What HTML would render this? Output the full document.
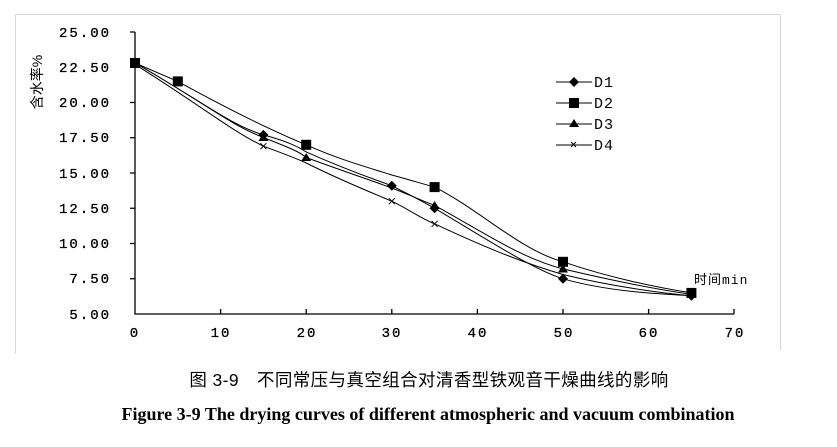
<!DOCTYPE html>
<html><head><meta charset="utf-8"><style>
body{margin:0;background:#fff;width:837px;height:442px;overflow:hidden}
</style></head><body>
<svg width="837" height="442" xmlns="http://www.w3.org/2000/svg" font-family="Liberation Mono, DejaVu Sans Mono, monospace">
<rect width="837" height="442" fill="#fff"/>
<path d="M15.5,354 V14.5 H780.5 V350" fill="none" stroke="#d8d8d8" stroke-width="1"/>
<g stroke="#000" stroke-width="1.3" fill="none">
<path d="M135,32 V314 H734"/>
<path d="M130,32H135M130,67.25H135M130,102.5H135M130,137.75H135M130,173H135M130,208.25H135M130,243.5H135M130,278.75H135"/>
<path d="M220.6,314V309M306.2,314V309M391.8,314V309M477.4,314V309M563,314V309M648.6,314V309M734,314V309"/>
</g>
<g font-size="14" fill="#000" text-anchor="end" letter-spacing="2" stroke="#000" stroke-width="0.3">
<text x="111" y="37">25.00</text><text x="111" y="72">22.50</text><text x="111" y="107">20.00</text><text x="111" y="142">17.50</text><text x="111" y="178">15.00</text><text x="111" y="213">12.50</text><text x="111" y="248">10.00</text><text x="111" y="283">7.50</text><text x="111" y="319">5.00</text>
</g>
<g font-size="14" fill="#000" text-anchor="middle" letter-spacing="2" stroke="#000" stroke-width="0.3">
<text x="135" y="337">0</text><text x="221" y="337">10</text><text x="307" y="337">20</text><text x="392" y="337">30</text><text x="478" y="337">40</text><text x="564" y="337">50</text><text x="649" y="337">60</text><text x="735" y="337">70</text>
</g>
<text transform="translate(42,82) rotate(-90)" font-size="14" text-anchor="middle" font-family="Liberation Sans, Noto Sans CJK SC, sans-serif">含水率%</text>
<text x="694" y="284" font-size="13" font-family="Liberation Mono, Noto Sans CJK SC, monospace" letter-spacing="1">时间min</text>
<g fill="none" stroke="#000" stroke-width="1">
<path d="M135,63 C200,100 230,125 263.4,134.9 C290,142 300,148 306.2,151.9 C340,167 370,178 391.8,185.7 C410,195 420,200 434.6,208.3 C480,235 530,268 563,278.8 C610,292 660,294 691.4,295.7"/>
<path d="M135,63 L177.8,81.4 C230,110 270,130 306.2,144.8 C340,160 370,168 391.8,175 C410,180 420,183 434.6,187.1 C480,210 520,250 563,261.8 C610,278 660,288 691.4,292.9"/>
<path d="M135,63 C200,100 230,125 263.4,137.5 C290,148 300,152 306.2,157.5 C340,170 370,180 391.8,188 C410,195 420,200 434.6,205.4 C480,230 520,258 563,268.9 C610,280 660,290 691.4,294.3"/>
<path d="M135,64.4 C200,105 230,130 263.4,146.2 C290,156 300,160 306.2,163 C340,180 370,192 391.8,201.2 C410,210 420,218 434.6,223.8 C480,245 520,262 563,274.5 C610,286 660,293 691.4,295.7"/>
</g>
<g fill="#000">
<rect x="130" y="58" width="10" height="10"/><rect x="172.8" y="76.4" width="10" height="10"/><rect x="301.2" y="139.8" width="10" height="10"/><rect x="429.6" y="182.1" width="10" height="10"/><rect x="558" y="256.8" width="10" height="10"/><rect x="686.4" y="287.9" width="10" height="10"/>
<path d="M263.4,129.9l5,5-5,5-5-5z M391.8,180.7l5,5-5,5-5-5z M434.6,203.3l5,5-5,5-5-5z M563,273.8l5,5-5,5-5-5z M691.4,290.7l5,5-5,5-5-5z"/>
<path d="M263.4,133l5,8h-10z M306.2,153l5,8h-10z M434.6,201l5,8h-10z M563,264.5l5,8h-10z"/>
</g>
<g stroke="#000" stroke-width="1">
<path d="M260.4,143.2l6,6m0,-6l-6,6 M388.8,198.2l6,6m0,-6l-6,6 M431.6,220.8l6,6m0,-6l-6,6"/>
</g>
<g stroke="#000" stroke-width="1">
<path d="M556,82H592M556,103H592M556,124H592M556,145H592"/>
</g>
<g fill="#000">
<path d="M574,77l5,5-5,5-5-5z"/><rect x="569" y="98" width="10" height="10"/><path d="M574,119l5,8h-10z"/>
</g>
<path d="M571,142l5,5m0,-5l-5,5" stroke="#000"/>
<g font-size="15" fill="#000" letter-spacing="1">
<text x="594" y="87">D1</text><text x="594" y="108">D2</text><text x="594" y="129">D3</text><text x="594" y="150">D4</text>
</g>
<text x="429" y="386" font-size="17.5" text-anchor="middle" letter-spacing="0.4" font-family="Liberation Sans, Noto Sans CJK SC, sans-serif">图 3-9　不同常压与真空组合对清香型铁观音干燥曲线的影响</text>
<text x="428" y="420" font-size="18" font-weight="bold" text-anchor="middle" font-family="Liberation Serif, serif">Figure 3-9 The drying curves of different atmospheric and vacuum combination</text>
</svg>
</body></html>
